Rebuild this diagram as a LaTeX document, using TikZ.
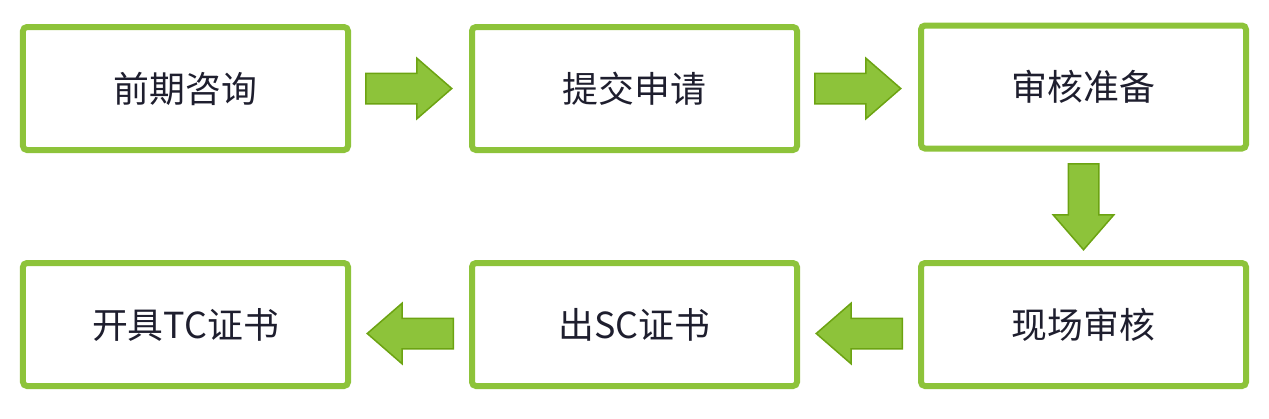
\documentclass[tikz,border=0pt]{standalone}
\usepackage{fontspec}
\setmainfont{Noto Sans CJK SC}
\usetikzlibrary{shapes.arrows,calc}
\definecolor{boxgreen}{RGB}{141,195,58}
\definecolor{arrowedge}{RGB}{108,163,18}
\definecolor{textdark}{RGB}{30,30,46}

\begin{document}
\begin{tikzpicture}
[x=1bp,y=-1bp,
box/.style={draw=boxgreen,line width=6bp,rounded corners=4bp,minimum width=325bp,minimum height=123bp,inner sep=0pt,text=textdark,font=\fontsize{36}{42}\selectfont},
flow/.style={single arrow,draw=arrowedge,fill=boxgreen,line width=1.5bp,inner sep=14.5bp,single arrow head extend=15bp,single arrow tip angle=82,minimum height=86bp,anchor=tail}]
\useasboundingbox (0,0) rectangle (1269,418);

\node[box] (00) at (185.5,88.5) {前期咨询};
\node[box] (10) at (634.5,88.5) {提交申请};
\node[box] (20) at (1083.5,87) {审核准备};
\node[box] (21) at (1083.5,324.5) {现场审核};
\node[box] (11) at (634.5,324.5) {出SC证书};
\node[box] (01) at (185.5,324.5) {开具TC证书};

\node[flow] (a1) at ($(00.east)+(14,0)$) {};
\node[flow] (a2) at ($(10.east)+(14,0)$) {};
\node[flow,rotate=-90] (a3) at ($(20.south)+(0,11.5)$) {};
\node[flow,rotate=180] (a4) at ($(21.west)+(-15,9)$) {};
\node[flow,rotate=180] (a5) at ($(11.west)+(-15,9)$) {};
\end{tikzpicture}
\end{document}
